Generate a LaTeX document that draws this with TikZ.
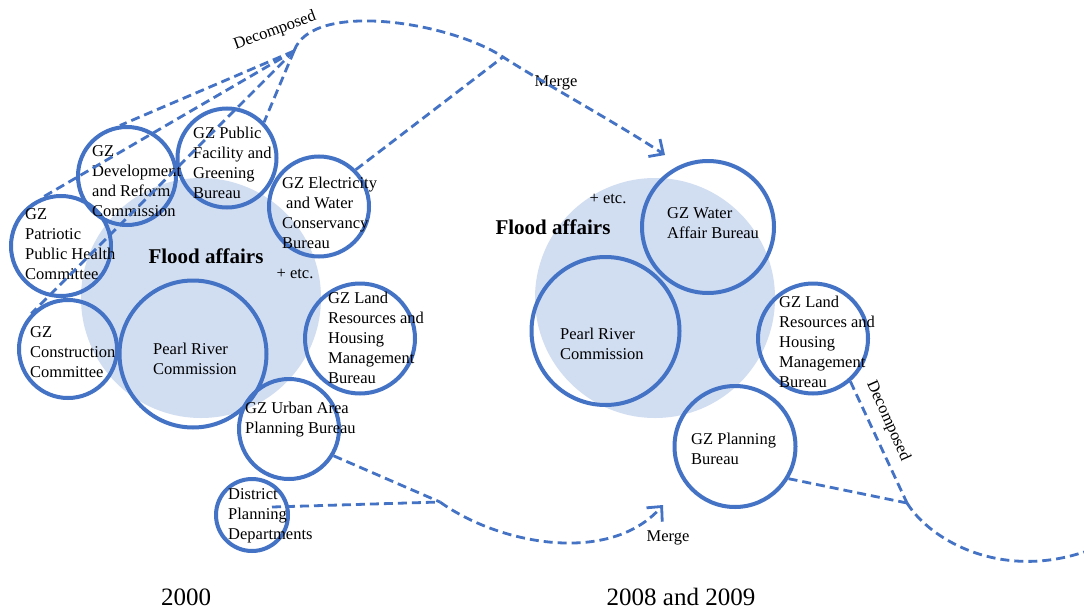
\documentclass[tikz,border=0pt]{standalone}
\usepackage{fontspec}
\setmainfont{Liberation Serif}
\usetikzlibrary{arrows.meta}
\definecolor{cblue}{RGB}{68,114,196}
\definecolor{cbg}{RGB}{209,222,242}
\begin{document}
\begin{tikzpicture}[x=1pt,y=-1pt,
  org/.style={circle, draw=cblue, line width=4pt, inner sep=0pt, minimum size=#1},
  bgc/.style={circle, fill=cbg, inner sep=0pt, minimum size=240pt},
  txt/.style={font=\fontsize{16.5}{20}\selectfont, align=left, anchor=west, inner sep=0pt},
  lbl/.style={font=\fontsize{16.5}{20}\selectfont, inner sep=0pt},
  big/.style={font=\bfseries\fontsize{21}{24}\selectfont, inner sep=0pt},
  yr/.style={font=\fontsize{25}{28}\selectfont, inner sep=0pt},
  dsh/.style={draw=cblue, line width=2.8pt, dash pattern=on 9pt off 5pt},
  tipstyle/.style={-{Straight Barb[length=11pt,width=21pt]}}
]
\fill[white] (0,0) rectangle (1084,610);
\useasboundingbox (0,0) rectangle (1084,610);

% background circles
\node[bgc] (bgL) at (201,298) {};
\node[bgc] (bgR) at (655,298) {};

% circles
\node[org=98pt]  (dev)   at (127,176) {};
\node[org=99pt]  (pub)   at (227,158) {};
\node[org=100pt] (elec)  at (319,206.5) {};
\node[org=100pt] (pat)   at (61,246) {};
\node[org=98pt]  (con)   at (68,349) {};
\node[org=147pt] (prcL)  at (193,354) {};
\node[org=110pt] (landL) at (360,338.5) {};
\node[org=100pt] (urb)   at (289,429) {};
\node[org=72pt]  (dist)  at (252,515) {};
\node[org=132pt] (water) at (708,227) {};
\node[org=148pt] (prcR)  at (605.5,331) {};
\node[org=110pt] (landR) at (813,338.5) {};
\node[org=121pt] (plan)  at (735,446.5) {};

% texts
\node[txt] (tdev)   at (92,181)  {GZ\\Development\\and Reform\\Commission};
\node[txt] (tpub)   at (193,163) {GZ Public\\Facility and\\Greening\\Bureau};
\node[txt] (telec)  at (282,213) {GZ Electricity\\\hspace*{4pt}and Water\\Conservancy\\Bureau};
\node[txt] (tpat)   at (25,244)  {GZ\\Patriotic\\Public Health\\Committee};
\node[txt] (tcon)   at (30,352)  {GZ\\Construction\\Committee};
\node[txt] (tprcL)  at (153,359) {Pearl River\\Commission};
\node[txt] (tlandL) at (328,338) {GZ Land\\Resources and\\Housing\\Management\\Bureau};
\node[txt] (turb)   at (245,420) {GZ Urban Area\\Planning Bureau};
\node[txt] (tdist)  at (228,516) {District\\Planning\\Departments};
\node[txt] (twater) at (667,223) {GZ Water\\Affair Bureau};
\node[txt] (tprcR)  at (560,344) {Pearl River\\Commission};
\node[txt] (tlandR) at (779,342) {GZ Land\\Resources and\\Housing\\Management\\Bureau};
\node[txt] (tplan)  at (691,449) {GZ Planning\\Bureau};

\node[big] (faL) at (206,256) {Flood affairs};
\node[big] (faR) at (553,227) {Flood affairs};
\node[lbl] (etcL) at (295,274) {+ etc.};
\node[lbl] (etcR) at (608,199) {+ etc.};

\node[yr] (yL) at (186,597) {2000};
\node[yr] (yR) at (681,597) {2008 and 2009};

\node[lbl, rotate=20]  (decT) at (275,31)  {Decomposed};
\node[lbl]             (merT) at (556,83)  {Merge};
\node[lbl]             (merB) at (668,538) {Merge};
\node[lbl, rotate=-66] (decR) at (888,421) {Decomposed};

% coordinates
\coordinate (conv)   at (294,51);
\coordinate (j1)     at (503,57);
\coordinate (tip1)   at (665,155);
\coordinate (j2)     at (440,502);
\coordinate (dstart) at (272,507);
\coordinate (tip2)   at (663,505);
\coordinate (j3)     at (907,503);
\coordinate (rend)   at (1084,552);

% connectors
\draw[dsh] (conv) -- (dev.98);
\draw[dsh] (conv) -- (pat.111);
\draw[dsh] (conv) -- (con.136);
\draw[dsh] (conv) -- (pub.44);
\draw[dsh] (elec.45) -- (j1);
\draw[dsh, tipstyle] (conv) .. controls (312,0) and (450,22) .. (j1)
   .. controls (540,81) and (620,125) .. (tip1);

\draw[dsh] (urb.-31) -- (j2);
\draw[dsh] (dstart) -- (j2);
\draw[dsh, tipstyle] (j2) .. controls (500,545) and (610,565) .. (tip2);

\draw[dsh] (landR.-49) -- (j3);
\draw[dsh] (plan.-31) -- (j3);
\draw[dsh] (j3) .. controls (930,540) and (1000,580) .. (rend);
\end{tikzpicture}
\end{document}
